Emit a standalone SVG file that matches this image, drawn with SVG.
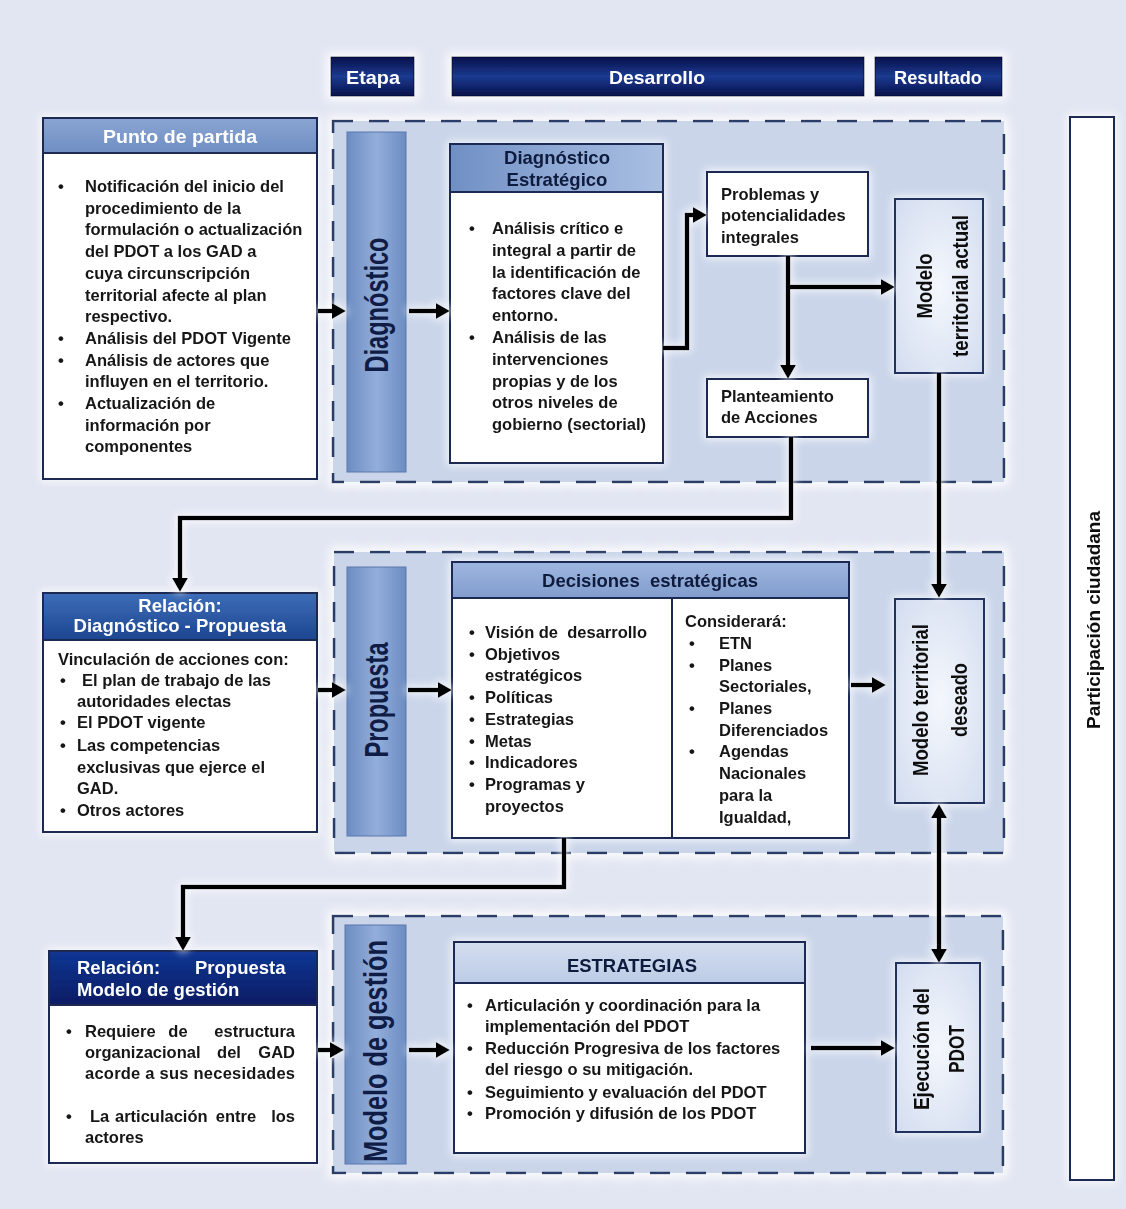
<svg xmlns="http://www.w3.org/2000/svg" width="1126" height="1209" viewBox="0 0 1126 1209">
<defs>
<style>
.t{font-family:"Liberation Sans",Arial,sans-serif;font-weight:bold;font-size:16.5px;fill:#161616}
.h{font-family:"Liberation Sans",Arial,sans-serif;font-weight:bold;font-size:18.5px}
.hw{fill:#ffffff}
.hd{fill:#101a3c}
.v{font-family:"Liberation Sans",Arial,sans-serif;font-weight:bold;fill:#111111}
.vb{font-family:"Liberation Sans",Arial,sans-serif;font-weight:bold;font-size:34px;fill:#0f1c45}
.box{fill:#ffffff;stroke:#1e2b52;stroke-width:2}
.mbox{fill:url(#gModel);stroke:#23335e;stroke-width:2}
.sec{fill:#cad5ea;stroke:#2b3d66;stroke-width:2.6;stroke-dasharray:20 16}
.bar{fill:url(#gBar);stroke:#5b79ab;stroke-width:1}
.navy{fill:url(#gNavy);stroke:#050c38;stroke-width:1}
.con{fill:none;stroke:#000000;stroke-width:4.5;stroke-linejoin:miter}
.ar{marker-end:url(#ah)}
</style>
<linearGradient id="gNavy" x1="0" y1="0" x2="0" y2="1">
<stop offset="0" stop-color="#07104a"/><stop offset="0.5" stop-color="#1b3a90"/><stop offset="1" stop-color="#07104a"/>
</linearGradient>
<linearGradient id="gBar" x1="0" y1="0" x2="1" y2="0">
<stop offset="0" stop-color="#6c8cc1"/><stop offset="0.5" stop-color="#93aedb"/><stop offset="1" stop-color="#6c8cc1"/>
</linearGradient>
<linearGradient id="gHead1" x1="0" y1="0" x2="0" y2="1">
<stop offset="0" stop-color="#8aa5d2"/><stop offset="1" stop-color="#6e8ec3"/>
</linearGradient>
<linearGradient id="gHeadDE" x1="0" y1="0" x2="1" y2="0">
<stop offset="0" stop-color="#6f8fc4"/><stop offset="0.5" stop-color="#8fa9d5"/><stop offset="1" stop-color="#a9bfe2"/>
</linearGradient>
<linearGradient id="gHeadDec" x1="0" y1="0" x2="0" y2="1">
<stop offset="0" stop-color="#9fb6df"/><stop offset="1" stop-color="#819dcd"/>
</linearGradient>
<linearGradient id="gHeadEst" x1="0" y1="0" x2="0" y2="1">
<stop offset="0" stop-color="#d4deef"/><stop offset="1" stop-color="#bccbe6"/>
</linearGradient>
<linearGradient id="gRel1" x1="0" y1="0" x2="0" y2="1">
<stop offset="0" stop-color="#3d6db8"/><stop offset="1" stop-color="#1d4590"/>
</linearGradient>
<linearGradient id="gRel2" x1="0" y1="0" x2="0" y2="1">
<stop offset="0" stop-color="#123694"/><stop offset="1" stop-color="#081c63"/>
</linearGradient>
<radialGradient id="gModel" cx="0.5" cy="0.5" r="0.7">
<stop offset="0" stop-color="#f4f7fc"/><stop offset="1" stop-color="#d3ddf0"/>
</radialGradient>
<filter id="glow" filterUnits="userSpaceOnUse" x="0" y="0" width="1126" height="1209">
<feMorphology in="SourceAlpha" operator="dilate" radius="4" result="d"/>
<feGaussianBlur in="d" stdDeviation="5" result="b"/>
<feFlood flood-color="#ffffff" flood-opacity="0.85"/>
<feComposite in2="b" operator="in" result="g"/>
<feMerge><feMergeNode in="g"/><feMergeNode in="SourceGraphic"/></feMerge>
</filter>
<filter id="glowS" filterUnits="userSpaceOnUse" x="0" y="0" width="1126" height="1209">
<feMorphology in="SourceAlpha" operator="dilate" radius="2" result="d"/>
<feGaussianBlur in="d" stdDeviation="4" result="b"/>
<feFlood flood-color="#ffffff" flood-opacity="0.75"/>
<feComposite in2="b" operator="in" result="g"/>
<feMerge><feMergeNode in="g"/><feMergeNode in="SourceGraphic"/></feMerge>
</filter>
<marker id="ah" viewBox="0 0 14 16" refX="4" refY="8" markerWidth="14" markerHeight="16" markerUnits="userSpaceOnUse" orient="auto-start-reverse">
<path d="M0,0 L14,8 L0,16 z" fill="#000000"/>
</marker>
</defs>

<rect x="0" y="0" width="1126" height="1209" fill="#e2e6f2"/>

<!-- header bars -->
<g id="headers" filter="url(#glow)">
<g id="h-etapa"><rect class="navy" x="331" y="57" width="83" height="39"/><text class="h hw" x="373" y="84" text-anchor="middle" textLength="54" lengthAdjust="spacingAndGlyphs">Etapa</text></g>
<g id="h-desarrollo"><rect class="navy" x="452" y="57" width="412" height="39"/><text class="h hw" x="657" y="84" text-anchor="middle" textLength="96" lengthAdjust="spacingAndGlyphs">Desarrollo</text></g>
<g id="h-resultado"><rect class="navy" x="875" y="57" width="127" height="39"/><text class="h hw" x="938" y="84" text-anchor="middle" textLength="88" lengthAdjust="spacingAndGlyphs">Resultado</text></g>
</g>

<!-- sections -->
<g id="sections" filter="url(#glow)">
<rect id="sec-diagnostico" class="sec" x="333" y="121" width="671" height="361"/>
<rect id="sec-propuesta" class="sec" x="334" y="552" width="670" height="301"/>
<rect id="sec-gestion" class="sec" x="333" y="916" width="670" height="257"/>
</g>

<!-- participacion -->
<g id="participacion" filter="url(#glowS)">
<rect class="box" x="1070" y="117" width="44" height="1063"/>
<text class="v" font-size="19" transform="translate(1093,620) rotate(-90)" x="0" y="7" text-anchor="middle" textLength="218" lengthAdjust="spacingAndGlyphs">Participación ciudadana</text>
</g>

<!-- stage bars -->
<g id="bar-diagnostico"><rect class="bar" x="347" y="132" width="59" height="340"/>
<text class="vb" transform="translate(377,305) rotate(-90)" x="0" y="11" text-anchor="middle" textLength="135" lengthAdjust="spacingAndGlyphs">Diagnóstico</text></g>
<g id="bar-propuesta"><rect class="bar" x="347" y="567" width="59" height="269"/>
<text class="vb" transform="translate(377,700) rotate(-90)" x="0" y="11" text-anchor="middle" textLength="115" lengthAdjust="spacingAndGlyphs">Propuesta</text></g>
<g id="bar-gestion"><rect class="bar" x="345" y="925" width="61" height="239"/>
<text class="vb" transform="translate(376,1051) rotate(-90)" x="0" y="11" text-anchor="middle" textLength="222" lengthAdjust="spacingAndGlyphs">Modelo de gestión</text></g>

<g id="nodes" filter="url(#glowS)">
<!-- Punto de partida -->
<g id="punto-partida">
<rect class="box" x="43" y="118" width="274" height="361"/>
<rect x="43" y="118" width="274" height="35" fill="url(#gHead1)" stroke="#1e2b52" stroke-width="2"/>
<text class="h hw" x="180" y="143" text-anchor="middle" textLength="154" lengthAdjust="spacingAndGlyphs">Punto de partida</text>
<text class="t" x="58" y="192">•</text>
<text class="t" x="85" y="192">Notificación del inicio del</text>
<text class="t" x="85" y="213.7">procedimiento de la</text>
<text class="t" x="85" y="235.4">formulación o actualización</text>
<text class="t" x="85" y="257.1">del PDOT a los GAD a</text>
<text class="t" x="85" y="278.8">cuya circunscripción</text>
<text class="t" x="85" y="300.5">territorial afecte al plan</text>
<text class="t" x="85" y="322.2">respectivo.</text>
<text class="t" x="58" y="343.9">•</text>
<text class="t" x="85" y="343.9">Análisis del PDOT Vigente</text>
<text class="t" x="58" y="365.6">•</text>
<text class="t" x="85" y="365.6">Análisis de actores que</text>
<text class="t" x="85" y="387.3">influyen en el territorio.</text>
<text class="t" x="58" y="409">•</text>
<text class="t" x="85" y="409">Actualización de</text>
<text class="t" x="85" y="430.7">información por</text>
<text class="t" x="85" y="452.4">componentes</text>
</g>

<!-- Diagnóstico Estratégico -->
<g id="diag-estrategico">
<rect class="box" x="450" y="144" width="213" height="319"/>
<rect x="450" y="144" width="213" height="48" fill="url(#gHeadDE)" stroke="#1e2b52" stroke-width="2"/>
<text class="h hd" x="557" y="164" text-anchor="middle">Diagnóstico</text>
<text class="h hd" x="557" y="186" text-anchor="middle">Estratégico</text>
<text class="t" x="469" y="234">•</text>
<text class="t" x="492" y="234">Análisis crítico e</text>
<text class="t" x="492" y="255.8">integral a partir de</text>
<text class="t" x="492" y="277.6">la identificación de</text>
<text class="t" x="492" y="299.4">factores clave del</text>
<text class="t" x="492" y="321.2">entorno.</text>
<text class="t" x="469" y="343">•</text>
<text class="t" x="492" y="343">Análisis de las</text>
<text class="t" x="492" y="364.8">intervenciones</text>
<text class="t" x="492" y="386.6">propias y de los</text>
<text class="t" x="492" y="408.4">otros niveles de</text>
<text class="t" x="492" y="430.2">gobierno (sectorial)</text>
</g>

<g id="problemas">
<rect class="box" x="707" y="172" width="161" height="84"/>
<text class="t" x="721" y="200">Problemas y</text>
<text class="t" x="721" y="221">potencialidades</text>
<text class="t" x="721" y="243">integrales</text>
</g>

<g id="planteamiento">
<rect class="box" x="707" y="379" width="161" height="58"/>
<text class="t" x="721" y="402">Planteamiento</text>
<text class="t" x="721" y="423">de Acciones</text>
</g>

<g id="modelo-actual">
<rect class="mbox" x="895" y="199" width="88" height="174"/>
<text class="v" font-size="22" transform="translate(924,286) rotate(-90)" x="0" y="8" text-anchor="middle" textLength="65" lengthAdjust="spacingAndGlyphs">Modelo</text>
<text class="v" font-size="22" transform="translate(960,286) rotate(-90)" x="0" y="8" text-anchor="middle" textLength="142" lengthAdjust="spacingAndGlyphs">territorial actual</text>
</g>

<!-- Relación Diagnóstico - Propuesta -->
<g id="relacion-diag-prop">
<rect class="box" x="43" y="593" width="274" height="239"/>
<rect x="43" y="593" width="274" height="47" fill="url(#gRel1)" stroke="#1e2b52" stroke-width="2"/>
<text class="h hw" x="180" y="612" text-anchor="middle">Relación:</text>
<text class="h hw" x="180" y="632" text-anchor="middle">Diagnóstico - Propuesta</text>
<text class="t" x="58" y="665">Vinculación de acciones con:</text>
<text class="t" x="60" y="686">•</text>
<text class="t" x="82" y="686">El plan de trabajo de las</text>
<text class="t" x="77" y="707">autoridades electas</text>
<text class="t" x="60" y="728">•</text>
<text class="t" x="77" y="728">El PDOT vigente</text>
<text class="t" x="60" y="751">•</text>
<text class="t" x="77" y="751">Las competencias</text>
<text class="t" x="77" y="773">exclusivas que ejerce el</text>
<text class="t" x="77" y="794">GAD.</text>
<text class="t" x="60" y="816">•</text>
<text class="t" x="77" y="816">Otros actores</text>
</g>

<!-- Decisiones estratégicas -->
<g id="decisiones">
<rect class="box" x="452" y="562" width="397" height="276"/>
<rect x="452" y="562" width="397" height="36" fill="url(#gHeadDec)" stroke="#1e2b52" stroke-width="2"/>
<line x1="672" y1="598" x2="672" y2="838" stroke="#1e2b52" stroke-width="2"/>
<text class="h hd" x="650" y="587" text-anchor="middle" xml:space="preserve">Decisiones  estratégicas</text>
<text class="t" x="469" y="638">•</text><text class="t" x="485" y="638" xml:space="preserve">Visión de  desarrollo</text>
<text class="t" x="469" y="659.7">•</text><text class="t" x="485" y="659.7">Objetivos</text>
<text class="t" x="485" y="681.4">estratégicos</text>
<text class="t" x="469" y="703.1">•</text><text class="t" x="485" y="703.1">Políticas</text>
<text class="t" x="469" y="724.8">•</text><text class="t" x="485" y="724.8">Estrategias</text>
<text class="t" x="469" y="746.5">•</text><text class="t" x="485" y="746.5">Metas</text>
<text class="t" x="469" y="768.2">•</text><text class="t" x="485" y="768.2">Indicadores</text>
<text class="t" x="469" y="789.9">•</text><text class="t" x="485" y="789.9">Programas y</text>
<text class="t" x="485" y="811.6">proyectos</text>
<text class="t" x="685" y="627">Considerará:</text>
<text class="t" x="689" y="649">•</text><text class="t" x="719" y="649">ETN</text>
<text class="t" x="689" y="671">•</text><text class="t" x="719" y="671">Planes</text>
<text class="t" x="719" y="692">Sectoriales,</text>
<text class="t" x="689" y="714">•</text><text class="t" x="719" y="714">Planes</text>
<text class="t" x="719" y="736">Diferenciados</text>
<text class="t" x="689" y="757">•</text><text class="t" x="719" y="757">Agendas</text>
<text class="t" x="719" y="779">Nacionales</text>
<text class="t" x="719" y="801">para la</text>
<text class="t" x="719" y="823">Igualdad,</text>
</g>

<g id="modelo-deseado">
<rect class="mbox" x="895" y="599" width="89" height="204"/>
<text class="v" font-size="22" transform="translate(920,700) rotate(-90)" x="0" y="8" text-anchor="middle" textLength="152" lengthAdjust="spacingAndGlyphs">Modelo territorial</text>
<text class="v" font-size="22" transform="translate(959,700) rotate(-90)" x="0" y="8" text-anchor="middle" textLength="74" lengthAdjust="spacingAndGlyphs">deseado</text>
</g>

<!-- Relación Propuesta Modelo de gestión -->
<g id="relacion-prop-gestion">
<rect class="box" x="49" y="951" width="268" height="212"/>
<rect x="49" y="951" width="268" height="54" fill="url(#gRel2)" stroke="#1e2b52" stroke-width="2"/>
<text class="h hw" x="77" y="974">Relación:</text>
<text class="h hw" x="195" y="974">Propuesta</text>
<text class="h hw" x="77" y="996">Modelo de gestión</text>
<text class="t" x="66" y="1037">•</text>
<text class="t" x="85" y="1037">Requiere</text>
<text class="t" x="178" y="1037" text-anchor="middle">de</text>
<text class="t" x="295" y="1037" text-anchor="end">estructura</text>
<text class="t" x="85" y="1058">organizacional</text>
<text class="t" x="229" y="1058" text-anchor="middle">del</text>
<text class="t" x="295" y="1058" text-anchor="end">GAD</text>
<text class="t" x="85" y="1079" textLength="210" lengthAdjust="spacing">acorde a sus necesidades</text>
<text class="t" x="66" y="1122">•</text>
<text class="t" x="90" y="1122">La</text>
<text class="t" x="115" y="1122">articulación</text>
<text class="t" x="236" y="1122" text-anchor="middle">entre</text>
<text class="t" x="295" y="1122" text-anchor="end">los</text>
<text class="t" x="85" y="1143">actores</text>
</g>

<!-- ESTRATEGIAS -->
<g id="estrategias">
<rect class="box" x="454" y="942" width="351" height="211"/>
<rect x="454" y="942" width="351" height="41" fill="url(#gHeadEst)" stroke="#1e2b52" stroke-width="2"/>
<text class="h hd" x="632" y="972" text-anchor="middle">ESTRATEGIAS</text>
<text class="t" x="467" y="1011">•</text><text class="t" x="485" y="1011">Articulación y coordinación para la</text>
<text class="t" x="485" y="1032">implementación del PDOT</text>
<text class="t" x="467" y="1054">•</text><text class="t" x="485" y="1054">Reducción Progresiva de los factores</text>
<text class="t" x="485" y="1075">del riesgo o su mitigación.</text>
<text class="t" x="467" y="1098">•</text><text class="t" x="485" y="1098">Seguimiento y evaluación del PDOT</text>
<text class="t" x="467" y="1119">•</text><text class="t" x="485" y="1119">Promoción y difusión de los PDOT</text>
</g>

<g id="ejecucion">
<rect class="mbox" x="896" y="963" width="84" height="169"/>
<text class="v" font-size="22" transform="translate(921,1049) rotate(-90)" x="0" y="8" text-anchor="middle" textLength="122" lengthAdjust="spacingAndGlyphs">Ejecución del</text>
<text class="v" font-size="22" transform="translate(956,1049) rotate(-90)" x="0" y="8" text-anchor="middle" textLength="48" lengthAdjust="spacingAndGlyphs">PDOT</text>
</g>
</g>

<!-- connectors -->
<g id="connectors" filter="url(#glowS)">
<path class="con ar" d="M318,311 H336"/>
<path class="con ar" d="M409,311 H440"/>
<path class="con ar" d="M663,348 H687 V215 H697"/>
<path class="con ar" d="M788,256 V369"/>
<path class="con ar" d="M788,287 H885"/>
<path class="con ar" d="M791,437 V518 H180 V582"/>
<path class="con ar" d="M939,373 V588"/>
<path class="con ar" d="M318,690 H336"/>
<path class="con ar" d="M408,690 H442"/>
<path class="con ar" d="M851,685 H876"/>
<path class="con ar" d="M939,814 V953" marker-start="url(#ah)"/>
<path class="con ar" d="M564,838 V887 H183 V941"/>
<path class="con ar" d="M318,1050 H334"/>
<path class="con ar" d="M409,1050 H440"/>
<path class="con ar" d="M811,1048 H885"/>
</g>
</svg>
